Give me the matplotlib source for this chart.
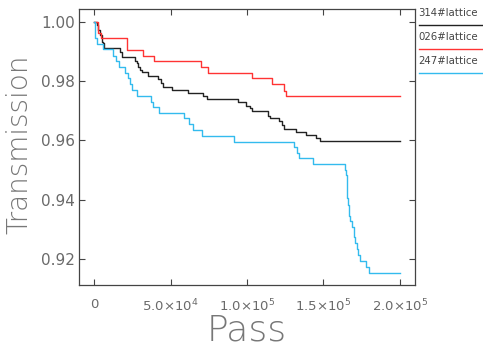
import matplotlib
matplotlib.use("Agg")
import matplotlib.pyplot as plt
from matplotlib.lines import Line2D

# pass number / transmission (step curves)
pass_314 = [0, 1500, 2600, 3700, 4800, 5900, 6300, 16800, 18300, 26600, 27700,
            28800, 29900, 31000, 35300, 41800, 43400, 44700, 50600, 61500,
            70900, 73900, 94100, 99600, 102200, 103500, 113700, 115300, 120900,
            123100, 124000, 132300, 138600, 145100, 148000, 200000]
trans_314 = [1.000, 0.9989, 0.9972, 0.9955, 0.9933, 0.9927, 0.9910, 0.9899,
             0.9880, 0.9868, 0.9860, 0.9848, 0.9837, 0.9830, 0.9817, 0.9806,
             0.9793, 0.9779, 0.9770, 0.9759, 0.9751, 0.9739, 0.9729, 0.9717,
             0.9708, 0.9699, 0.9684, 0.9677, 0.9667, 0.9652, 0.9639, 0.9630,
             0.9619, 0.9607, 0.9598, 0.9598]

pass_026 = [0, 2500, 4200, 21200, 31600, 39000, 69700, 74500, 103500, 116600,
            124200, 125300, 200000]
trans_026 = [1.000, 0.9961, 0.9944, 0.9905, 0.9886, 0.9868, 0.9848, 0.9828,
             0.9809, 0.9789, 0.9768, 0.9750, 0.9750]

pass_247 = [0, 460, 2000, 5500, 12400, 14200, 16300, 20300, 21800, 23300,
            24600, 28100, 37000, 38600, 42500, 58800, 61900, 64700, 70600,
            91500, 130700, 132700, 134000, 143100, 164300, 165000, 165400,
            166300, 166700, 167100, 167600, 168700, 170000, 170900, 172000,
            172900, 173700, 177600, 180200, 200000]
trans_247 = [1.000, 0.9944, 0.9925, 0.9907, 0.9885, 0.9869, 0.9848, 0.9828,
             0.9809, 0.9790, 0.9770, 0.9750, 0.9731, 0.9712, 0.9691, 0.9675,
             0.9656, 0.9635, 0.9616, 0.9596, 0.9579, 0.9559, 0.9540, 0.9520,
             0.9501, 0.9484, 0.9405, 0.9383, 0.9366, 0.9346, 0.9329, 0.9308,
             0.9274, 0.9254, 0.9234, 0.9214, 0.9195, 0.9175, 0.9155, 0.9155]

names = ["314#lattice", "026#lattice", "247#lattice"]
colors = ["#222222", "#ff3333", "#33bbee"]

xticks = [0, 50000, 100000, 150000, 200000]
xticklabels = ["0", r"$5.0{\times}10^{4}$", r"$1.0{\times}10^{5}$",
               r"$1.5{\times}10^{5}$", r"$2.0{\times}10^{5}$"]
yticks = [0.92, 0.94, 0.96, 0.98, 1.00]

txt = "#6a6a6a"

fig = plt.figure(figsize=(4.83, 3.51), dpi=100)
ax = fig.add_axes([0.1636, 0.188, 0.6956, 0.7864])

series = [(pass_314, trans_314), (pass_026, trans_026), (pass_247, trans_247)]
for (px, ty), c in zip(series, colors):
    ax.plot(px, ty, drawstyle="steps-post", color=c, lw=1.0)

ax.set_xlim(-10000, 210000)
ax.set_ylim(0.9113, 1.0043)
ax.set_xticks(xticks)
ax.set_xticklabels(xticklabels)
ax.set_yticks(yticks)
ax.set_yticklabels([f"{v:.2f}" for v in yticks])

ax.tick_params(direction="in", length=4, width=0.8, colors="#444444",
               top=True, right=True, labelcolor=txt, labelsize=11)
ax.tick_params(axis="x", pad=9, labelsize=9.5)
ax.tick_params(axis="y", pad=3)
for s in ax.spines.values():
    s.set_color("#444444")
    s.set_linewidth(0.9)

ax.set_xlabel("Pass", fontsize=26, color="#777777", fontweight="light")
ax.xaxis.set_label_coords(0.5, -0.105)
ax.set_ylabel("Transmission", fontsize=20, color="#777777", fontweight="light")
ax.yaxis.set_label_coords(-0.136, 0.51)

# legend: name above a short line, outside the right spine
for i, (n, c) in enumerate(zip(names, colors)):
    ty = 1 - (13 + 24 * i) / 351
    ly = 1 - (25 + 24 * i) / 351
    fig.text(418 / 483, ty, n, fontsize=7.3, color="#444444", va="center", ha="left")
    fig.add_artist(Line2D([419 / 483, 482 / 483], [ly, ly], color=c, lw=1.0,
                          transform=fig.transFigure))

fig.savefig("out.png", dpi=100)
